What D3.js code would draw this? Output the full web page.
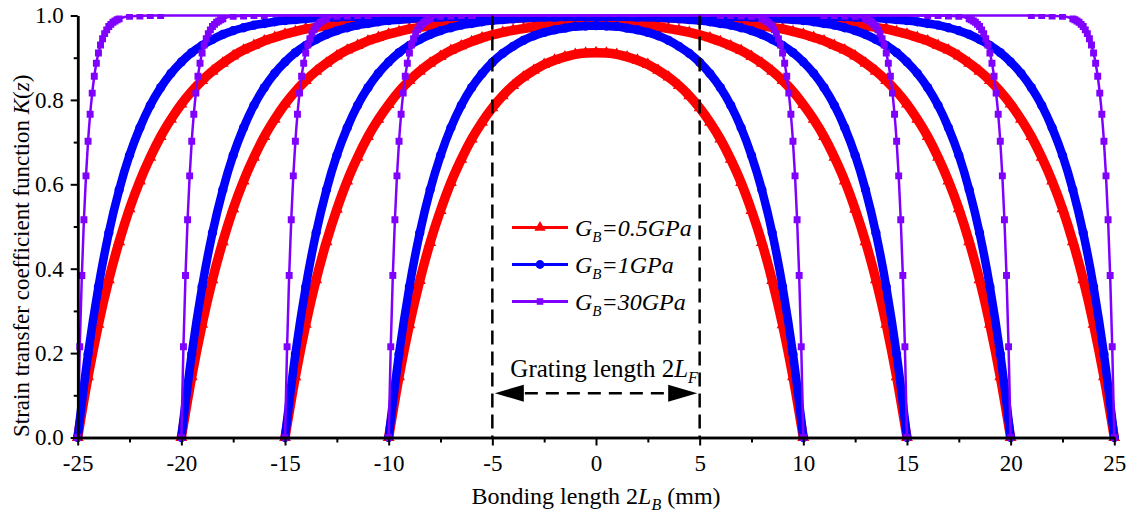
<!DOCTYPE html>
<html>
<head>
<meta charset="utf-8">
<script src="https://cdn.jsdelivr.net/npm/d3@7"></script>
<style>
    body { margin: 0; background: #fff; }
    #chart-area svg { display: block; }
    text { font-family: "Liberation Serif", "Times New Roman", serif; fill: #000; }
</style>
</head>
<body>
<div id="chart-area"></div>
<script>

// bonding half length L of each group of curves (mm)
var halfLengths = [10, 15, 20, 25];

// sample positions along the bonding length (mm)
var zGrid = [-25, -24.5, -24, -23.5, -23, -22.5, -22, -21.5, -21, -20.5, -20, -19.5, -19, -18.5, -18, -17.5,
    -17, -16.5, -16, -15.5, -15, -14.5, -14, -13.5, -13, -12.5, -12, -11.5, -11, -10.5, -10, -9.5, -9, -8.5,
    -8, -7.5, -7, -6.5, -6, -5.5, -5, -4.5, -4, -3.5, -3, -2.5, -2, -1.5, -1, -0.5, 0, 0.5, 1, 1.5, 2, 2.5,
    3, 3.5, 4, 4.5, 5, 5.5, 6, 6.5, 7, 7.5, 8, 8.5, 9, 9.5, 10, 10.5, 11, 11.5, 12, 12.5, 13, 13.5, 14, 14.5,
    15, 15.5, 16, 16.5, 17, 17.5, 18, 18.5, 19, 19.5, 20, 20.5, 21, 21.5, 22, 22.5, 23, 23.5, 24, 24.5, 25];

// K(z), G_B = 0.5 GPa (red), one array per L, on the zGrid points inside [-L, L]
var red10 = [0, .144, .267, .372, .462, .538, .604, .659, .707, .747, .781, .810, .834, .854, .870, .884, .894,
    .902, .908, .911, .912, .911, .908, .902, .894, .884, .870, .854, .834, .810, .781, .747, .707, .659, .604,
    .538, .462, .372, .267, .144, 0];
var red15 = [0, .144, .268, .374, .464, .541, .608, .664, .713, .754, .789, .820, .846, .868, .887, .903, .917,
    .928, .938, .947, .954, .960, .965, .969, .973, .975, .978, .979, .980, .981, .981, .981, .980, .979, .978,
    .975, .973, .969, .965, .960, .954, .947, .938, .928, .917, .903, .887, .868, .846, .820, .789, .754, .713,
    .664, .608, .541, .464, .374, .268, .144, 0];
var red20 = [0, .144, .268, .374, .464, .542, .608, .664, .713, .754, .790, .820, .846, .868, .887, .904, .918,
    .929, .940, .948, .956, .962, .968, .972, .976, .980, .982, .985, .987, .989, .990, .992, .993, .994, .994,
    .995, .995, .996, .996, .996, .996, .996, .996, .996, .995, .995, .994, .994, .993, .992, .990, .989, .987,
    .985, .982, .980, .976, .972, .968, .962, .956, .948, .940, .929, .918, .904, .887, .868, .846, .820, .790,
    .754, .713, .664, .608, .542, .464, .374, .268, .144, 0];
var red25 = [0, .144, .268, .374, .464, .542, .608, .664, .713, .754, .790, .820, .846, .868, .887, .904, .918,
    .929, .940, .948, .956, .962, .968, .972, .976, .980, .983, .985, .987, .989, .991, .992, .993, .994, .995,
    .996, .996, .997, .997, .998, .998, .998, .998, .999, .999, .999, .999, .999, .999, .999, .999, .999, .999,
    .999, .999, .999, .999, .999, .998, .998, .998, .998, .997, .997, .996, .996, .995, .994, .993, .992, .991,
    .989, .987, .985, .983, .980, .976, .972, .968, .962, .956, .948, .940, .929, .918, .904, .887, .868, .846,
    .820, .790, .754, .713, .664, .608, .542, .464, .374, .268, .144, 0];

// K(z), G_B = 1 GPa (blue)
var blue10 = [0, .198, .357, .485, .587, .668, .734, .787, .829, .862, .889, .910, .927, .941, .952, .960, .966,
    .970, .974, .975, .976, .975, .974, .970, .966, .960, .952, .941, .927, .910, .889, .862, .829, .787, .734,
    .668, .587, .485, .357, .198, 0];
var blue15 = [0, .198, .357, .485, .587, .669, .734, .787, .829, .863, .890, .912, .929, .943, .955, .964, .971,
    .977, .981, .985, .988, .990, .992, .994, .995, .996, .996, .997, .997, .997, .997, .997, .997, .997, .996,
    .996, .995, .994, .992, .990, .988, .985, .981, .977, .971, .964, .955, .943, .929, .912, .890, .863, .829,
    .787, .734, .669, .587, .485, .357, .198, 0];
var blue20 = [0, .198, .357, .485, .587, .669, .734, .787, .829, .863, .890, .912, .929, .943, .955, .964, .971,
    .977, .981, .985, .988, .990, .992, .994, .995, .996, .997, .997, .998, .998, .999, .999, .999, .999, .999,
    .999, 1, 1, 1, 1, 1, 1, 1, 1, 1, .999, .999, .999, .999, .999, .999, .998, .998, .997, .997, .996, .995,
    .994, .992, .990, .988, .985, .981, .977, .971, .964, .955, .943, .929, .912, .890, .863, .829, .787, .734,
    .669, .587, .485, .357, .198, 0];
var blue25 = [0, .198, .357, .485, .587, .669, .734, .787, .829, .863, .890, .912, .929, .943, .955, .964, .971,
    .977, .981, .985, .988, .990, .992, .994, .995, .996, .997, .997, .998, .998, .999, .999, .999, .999, .999,
    1, 1, 1, 1, 1, 1, 1, 1, 1, 1, 1, 1, 1, 1, 1, 1, 1, 1, 1, 1, 1, 1, 1, 1, 1, 1, 1, 1, 1, 1, 1,
    .999, .999, .999, .999, .999, .998, .998, .997, .997, .996, .995, .994, .992, .990, .988, .985, .981, .977,
    .971, .964, .955, .943, .929, .912, .890, .863, .829, .787, .734, .669, .587, .485, .357, .198, 0];

// G_B = 30 GPa (purple): K against distance from the bonded end (mm), same at every end
var purpleEdgeOffset = [0, .1, .2, .3, .4, .5, .6, .7, .8, .9, 1.0, 1.1, 1.2, 1.3, 1.4, 1.5, 1.6, 1.7, 1.8, 1.9,
    2.0, 2.5, 3.0, 3.5, 4.0];
var purpleEdgeK = [0, .215, .384, .516, .620, .702, .766, .816, .856, .887, .911, .930, .945, .957, .966, .974,
    .979, .984, .987, .990, .992, .998, .999, 1, 1];

var xTicks = [-25, -20, -15, -10, -5, 0, 5, 10, 15, 20, 25];
var xMinorTicks = [-22.5, -17.5, -12.5, -7.5, -2.5, 2.5, 7.5, 12.5, 17.5, 22.5];
var yTicks = [0, 0.2, 0.4, 0.6, 0.8, 1.0];
var yMinorTicks = [0.1, 0.3, 0.5, 0.7, 0.9];

var gratingEdges = [-5, 5];
var arrowLevel = 0.105;
var legendValues = ["=0.5GPa", "=1GPa", "=30GPa"];

var serif = "'Liberation Serif', 'Times New Roman', serif";


StrainVis = function(_parentElement) {
    this.parentElement = _parentElement;
    this.initVis();
}

StrainVis.prototype.initVis = function() {
    var vis = this;

    vis.margin = {top: 15.5, right: 16.7, bottom: 75.5, left: 77.7};
    vis.width = 1131 - vis.margin.left - vis.margin.right;
    vis.height = 513 - vis.margin.top - vis.margin.bottom;

    vis.svg = d3.select("#" + vis.parentElement).append("svg")
        .attr("width", 1131)
        .attr("height", 513)
        .attr("font-family", serif)
        .append("g")
        .attr("transform", "translate(" + vis.margin.left + "," + vis.margin.top + ")");

    vis.x = d3.scaleLinear().domain([-25, 25]).range([0, vis.width]);
    vis.y = d3.scaleLinear().domain([0, 1]).range([vis.height, 0]);

    vis.svg.append("clipPath")
        .attr("id", "plot-clip")
        .append("rect")
        .attr("x", -6)
        .attr("y", -1.5)
        .attr("width", vis.width + 12)
        .attr("height", vis.height + 14);

    vis.plot = vis.svg.append("g").attr("clip-path", "url(#plot-clip)");

    vis.series = [
        {color: "#ff0000", width: 9.5, symbol: d3.symbolTriangle, size: 62},
        {color: "#0000ff", width: 8.5, symbol: d3.symbolCircle, size: 68},
        {color: "#8000ff", width: 2.5, symbol: d3.symbolSquare, size: 48}
    ];

    vis.wrangleData();
}

StrainVis.prototype.wrangleData = function() {
    var vis = this;

    var redK = [red10, red15, red20, red25];
    var blueK = [blue10, blue15, blue20, blue25];

    function onGrid(values, L) {
        var z = zGrid.filter(function(d) { return Math.abs(d) <= L; });
        if (z.length !== values.length) console.warn("length mismatch for L=" + L);
        return z.map(function(d, j) { return {z: d, k: values[j]}; });
    }

    vis.series[0].curves = halfLengths.map(function(L, i) { return onGrid(redK[i], L); });
    vis.series[1].curves = halfLengths.map(function(L, i) { return onGrid(blueK[i], L); });
    vis.series[2].curves = halfLengths.map(function(L) {
        var pts = [];
        purpleEdgeOffset.forEach(function(d, j) {
            pts.push({z: -L + d, k: purpleEdgeK[j]});
            pts.push({z: L - d, k: purpleEdgeK[j]});
        });
        return pts.sort(function(a, b) { return a.z - b.z; });
    });

    vis.updateVis();
}

StrainVis.prototype.updateVis = function() {
    var vis = this;

    var line = d3.line()
        .x(function(d) { return vis.x(d.z); })
        .y(function(d) { return vis.y(d.k); })
        .curve(d3.curveMonotoneX);

    vis.series.forEach(function(s, si) {
        var g = vis.plot.append("g").attr("class", "series-" + si);
        s.curves.forEach(function(pts) {
            g.append("path")
                .attr("d", line(pts))
                .attr("fill", "none")
                .attr("stroke", s.color)
                .attr("stroke-width", s.width)
                .attr("stroke-linejoin", "round");

            g.selectAll(null)
                .data(pts)
                .enter()
                .append("path")
                .attr("d", d3.symbol().type(s.symbol).size(s.size))
                .attr("fill", s.color)
                .attr("transform", function(d) {
                    return "translate(" + vis.x(d.z) + "," + vis.y(d.k) + ")";
                });
        });
    });

    // grating length marks
    var ann = vis.svg.append("g").attr("class", "grating");
    gratingEdges.forEach(function(e) {
        ann.append("line")
            .attr("x1", vis.x(e)).attr("x2", vis.x(e))
            .attr("y1", vis.y(1)).attr("y2", vis.y(0))
            .attr("stroke", "#000")
            .attr("stroke-width", 2.5)
            .attr("stroke-dasharray", "14,7");
    });

    var ay = vis.y(arrowLevel);
    var xa = vis.x(gratingEdges[0]) + 2.5;
    var xb = vis.x(gratingEdges[1]) - 2.5;
    ann.append("line")
        .attr("x1", xa + 30).attr("x2", xb - 28)
        .attr("y1", ay).attr("y2", ay)
        .attr("stroke", "#000")
        .attr("stroke-width", 2.5)
        .attr("stroke-dasharray", "13,8");
    ann.append("path")
        .attr("d", "M" + xa + "," + ay + " L" + (xa + 29) + "," + (ay - 8.5) + " L" + (xa + 29) + "," + (ay + 8.5) + " Z")
        .attr("fill", "#000");
    ann.append("path")
        .attr("d", "M" + xb + "," + ay + " L" + (xb - 29) + "," + (ay - 8.5) + " L" + (xb - 29) + "," + (ay + 8.5) + " Z")
        .attr("fill", "#000");

    var gt = ann.append("text")
        .attr("x", vis.x(gratingEdges[0]) + 18)
        .attr("y", ay - 16.5)
        .attr("font-size", 25);
    gt.append("tspan").text("Grating length 2");
    gt.append("tspan").attr("font-style", "italic").text("L");
    gt.append("tspan").attr("font-style", "italic").attr("font-size", 16).attr("dy", 6).text("F");

    // axes
    var xAxis = d3.axisBottom(vis.x).tickValues(xTicks).tickSize(8).tickSizeOuter(0).tickPadding(9)
        .tickFormat(function(d) { return String(d); });
    var xMinor = d3.axisBottom(vis.x).tickValues(xMinorTicks).tickSize(5).tickSizeOuter(0).tickFormat("");
    var yAxis = d3.axisLeft(vis.y).tickValues(yTicks).tickSize(7).tickSizeOuter(0).tickPadding(7)
        .tickFormat(d3.format(".1f"));
    var yMinor = d3.axisLeft(vis.y).tickValues(yMinorTicks).tickSize(4).tickSizeOuter(0).tickFormat("");

    var gx = vis.svg.append("g").attr("transform", "translate(0," + vis.height + ")");
    gx.call(xMinor);
    gx.append("g").call(xAxis);
    var gy = vis.svg.append("g");
    gy.call(yMinor);
    gy.append("g").call(yAxis);

    [gx, gy].forEach(function(g) {
        g.attr("font-family", serif);
        g.selectAll("g").attr("font-family", serif);
        g.selectAll(".domain").attr("stroke", "#000").attr("stroke-width", 2.5);
        g.selectAll(".tick line").attr("stroke", "#000").attr("stroke-width", 2);
        g.selectAll(".tick text")
            .attr("font-family", serif)
            .attr("font-size", 23)
            .attr("fill", "#000");
    });

    var xl = vis.svg.append("text")
        .attr("x", vis.x(0))
        .attr("y", vis.height + 66.5)
        .attr("text-anchor", "middle")
        .attr("font-size", 24);
    xl.append("tspan").text("Bonding length 2");
    xl.append("tspan").attr("font-style", "italic").text("L");
    xl.append("tspan").attr("font-style", "italic").attr("font-size", 16).attr("dy", 6).text("B");
    xl.append("tspan").attr("dy", -6).text(" (mm)");

    var yl = vis.svg.append("text")
        .attr("transform", "translate(" + (29.5 - vis.margin.left) + "," + (vis.height - 0.5) + ") rotate(-90)")
        .attr("text-anchor", "start")
        .attr("font-size", 23);
    yl.append("tspan").text("Strain transfer coefficient function ");
    yl.append("tspan").attr("font-style", "italic").text("K");
    yl.append("tspan").text("(");
    yl.append("tspan").attr("font-style", "italic").text("z");
    yl.append("tspan").text(")");

    // legend
    var legend = vis.svg.append("g")
        .attr("transform", "translate(" + (512 - vis.margin.left) + "," + (227.5 - vis.margin.top) + ")");
    vis.series.forEach(function(s, i) {
        var row = legend.append("g").attr("transform", "translate(0," + (i * 37) + ")");
        row.append("line")
            .attr("x1", 0).attr("x2", 56)
            .attr("stroke", s.color)
            .attr("stroke-width", 3);
        row.append("path")
            .attr("d", d3.symbol().type(s.symbol).size(s.size * 0.9))
            .attr("fill", s.color)
            .attr("transform", "translate(28,0)");
        var t = row.append("text")
            .attr("x", 63)
            .attr("y", 8)
            .attr("font-size", 24)
            .attr("font-style", "italic");
        t.append("tspan").text("G");
        t.append("tspan").attr("font-size", 15).attr("dy", 6).text("B");
        t.append("tspan").attr("dy", -6).text(legendValues[i]);
    });
}

var strainVis = new StrainVis("chart-area");

</script>
</body>
</html>
